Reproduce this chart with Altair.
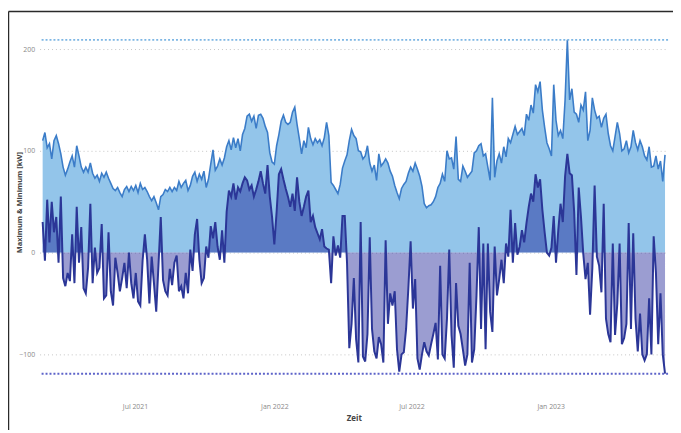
import altair as alt
import pandas as pd

# ---- data (one value every 3 days) ----
START = "2021-03-01"
STEP_DAYS = 3

MAX_KW = [
    110, 118, 103, 107, 92, 110, 115, 107, 97, 84,
    76, 82, 89, 95, 84, 105, 95, 84, 79, 84,
    79, 88, 78, 73, 76, 70, 78, 74, 79, 73,
    68, 63, 61, 64, 59, 55, 62, 65, 60, 65,
    61, 66, 59, 68, 62, 64,
    60, 55, 51, 55, 49, 42, 55, 57, 62, 60,
    64, 60, 64, 61, 70, 64, 68, 71, 61, 66,
    75, 79, 70, 77, 72, 80, 64, 72, 87, 101,
    81, 85, 92, 86, 93, 104, 110, 101, 113, 103,
    112, 100, 116, 122, 134, 136,
    129, 134, 122, 135, 136, 132, 124, 118, 98, 89,
    87, 105, 116, 129, 135, 128, 126, 128, 138, 143,
    126, 112, 97, 110, 103, 123, 112, 106, 112, 108,
    111, 105, 113, 128, 115, 69, 66, 62, 58, 67,
    83, 90, 96, 110, 121, 115,
    112, 100, 99, 92, 95, 105, 88, 80, 86, 71,
    97, 85, 88, 92, 88, 80, 75, 66, 59, 53,
    63, 67, 70, 78, 84, 80, 88, 82, 75, 65,
    48, 44, 46, 47, 50, 55, 64, 68, 77, 70,
    100, 92, 93, 82, 114, 72,
    70, 85, 80, 74, 77, 80, 98, 100, 105, 107,
    95, 97, 84, 71, 152, 74, 90, 97, 88, 104,
    94, 112, 108, 116, 124, 116, 119, 122, 115, 136,
    130, 145, 137, 165, 158, 168, 140, 123, 108, 102,
    95, 165, 130, 115, 120, 112,
    150, 209, 150, 161, 138, 136, 128, 145, 140, 158,
    110, 120, 152, 140, 132, 134, 123, 132, 136, 117,
    105, 100, 114, 128, 117, 100, 102, 110, 98, 104,
    120, 108, 101, 110, 104, 95, 91, 104, 84, 85,
    95, 82, 90, 70, 96,
]

MIN_KW = [
    30, -8, 52, 10, 50, 20, 35, -10, 55, -25,
    -33, -20, -28, 18, -30, 45, -10, 25, -35, -40,
    -15, 48, -30, 5, -20, -15, 28, -45, -42, 20,
    -38, -52, -5, -20, -38, -25, -10, -35, 0, -30,
    -45, -20, -48, -52, -8, 18,
    -7, -50, -4, -30, -58, -12, 35, -27, -38, -42,
    -16, -32, -10, -3, -38, -33, -45, -20, -40, 3,
    -18, 18, 33, -7, -30, -25, 6, -5, 26, 14,
    30, 6, -7, 22, -10, 40, 61, 55, 68, 52,
    64, 60, 68, 74, 71, 62,
    66, 55, 62, 70, 80, 68, 58, 86, 55, 35,
    8, 40, 77, 82, 72, 63, 55, 45, 58, 41,
    74, 50, 36, 45, 55, 61, 30, 36, 25, 19,
    13, 23, 6, 4, 3, -30, 16, -3, 7, -5,
    36, 36, -10, -94, -70, -25,
    -85, -108, 30, -102, -107, -80, 15, -75, -97, -104,
    -83, -90, -108, 12, -70, -40, -52, -38, -95, -117,
    -100, -98, -75, -35, 11, -55, -26, -104, -115, -100,
    -88, -97, -101, -90, -80, -69, -105, -13, -100, -104,
    -65, 3, -81, -113, -30, -72,
    -80, -95, -111, -100, -10, -108, -95, -42, 25, -75,
    9, -95, 9, -58, -78, 6, -42, -26, -7, -30,
    9, -4, 42, -10, 29, -2, 6, 22, 10, 29,
    45, 58, 50, 77, 64, 72, 42, 20, 0, -3,
    5, 36, -10, 22, 48, 30,
    75, 97, 78, 76, 40, -22, 64, 35, -1, -26,
    -10, -61, -15, 66, -4, -13, -39, 48, -65, -80,
    -88, 9, -81, -50, 9, -90, -84, -70, 29, -75,
    19, -65, -97, -60, -100, -106, -100, -45, -100, 16,
    -20, -90, -40, -100, -119,
]

Y_TICKS = [-100, 0, 100, 200]
X_TICKS = [(2021, 7), (2022, 1), (2022, 7), (2023, 1)]
X_DOMAIN = [(2021, 2, 25), (2023, 6, 5)]
Y_DOMAIN = [-133, 216.5]

dates = pd.date_range(START, periods=len(MAX_KW), freq=f"{STEP_DAYS}D")
df = pd.DataFrame({
    "Zeit": dates.strftime("%Y-%m-%dT00:00:00"),
    "Max": MAX_KW,
    "Min": MIN_KW,
})

FONT = "Open Sans"
YTITLE = "Maximum & Minimum [kW]"

x_enc = alt.X(
    "Zeit:T",
    title="Zeit",
    scale=alt.Scale(domain=[alt.DateTime(year=y, month=m, date=d) for y, m, d in X_DOMAIN]),
    axis=alt.Axis(
        values=[alt.DateTime(year=y, month=m, date=1) for y, m in X_TICKS],
        format="%b %Y",
        grid=False, ticks=False, domain=False,
        labelFont=FONT, labelFontSize=7, labelColor="#8a8a8a", labelPadding=15,
        titleFont=FONT, titleFontSize=8, titleFontWeight="bold", titleColor="#444444",
        titlePadding=5,
    ),
)
y_scale = alt.Scale(domain=Y_DOMAIN, nice=False, zero=False)
y_axis = alt.Axis(
    values=Y_TICKS, grid=True, gridDash=[1, 3], gridColor="#c4c4c4", gridWidth=1,
    ticks=False, domain=False,
    labelFont=FONT, labelFontSize=7, labelColor="#8a8a8a", labelPadding=5,
    titleFont=FONT, titleFontSize=7.5, titleFontWeight="bold", titleColor="#444444",
    titleX=-20, titleY=172, titleAngle=270, titleAlign="center", titleBaseline="middle",
)

base = alt.Chart(df)

max_area = base.mark_area(color="#93c5ea", opacity=1).encode(
    x=x_enc,
    y=alt.Y("Max:Q", scale=y_scale, axis=y_axis, title=YTITLE),
    y2=alt.datum(0),
)
min_area = base.mark_area(color="#050a8c", opacity=0.4).encode(
    x=x_enc,
    y=alt.Y("Min:Q", scale=y_scale, title=YTITLE),
    y2=alt.datum(0),
)
max_line = base.mark_line(color="#3b7cc8", strokeWidth=1.6).encode(
    x=x_enc, y=alt.Y("Max:Q", scale=y_scale, title=YTITLE)
)
min_line = base.mark_line(color="#2b3697", strokeWidth=2).encode(
    x=x_enc, y=alt.Y("Min:Q", scale=y_scale, title=YTITLE)
)
max_ref = base.mark_rule(color="#7db6e4", strokeDash=[2, 2], strokeWidth=2).encode(
    y=alt.Y("max(Max):Q", scale=y_scale, title=YTITLE)
)
min_ref = base.mark_rule(color="#5d63c9", strokeDash=[2, 2], strokeWidth=2).encode(
    y=alt.Y("min(Min):Q", scale=y_scale, title=YTITLE)
)

frame_df = pd.DataFrame({"k": [0]})
frame_top = alt.Chart(frame_df).mark_rule(color="#2a2a2a", strokeWidth=1.5).encode(
    x=alt.value(-31.5), x2=alt.value(645), y=alt.value(-21)
)
frame_left = alt.Chart(frame_df).mark_rule(color="#2a2a2a", strokeWidth=1.5).encode(
    x=alt.value(-31.5), y=alt.value(-21), y2=alt.value(420)
)

chart = alt.layer(
    max_area, min_area, max_line, min_line, max_ref, min_ref, frame_top, frame_left
).properties(
    width=636,
    height=360,
    autosize=alt.AutoSizeParams(type="none"),
    padding={"left": 32, "top": 22, "right": 5, "bottom": 40},
    background="white",
).configure_view(strokeWidth=0)

chart.save("out.html", embed_options={"renderer": "svg", "actions": False})
